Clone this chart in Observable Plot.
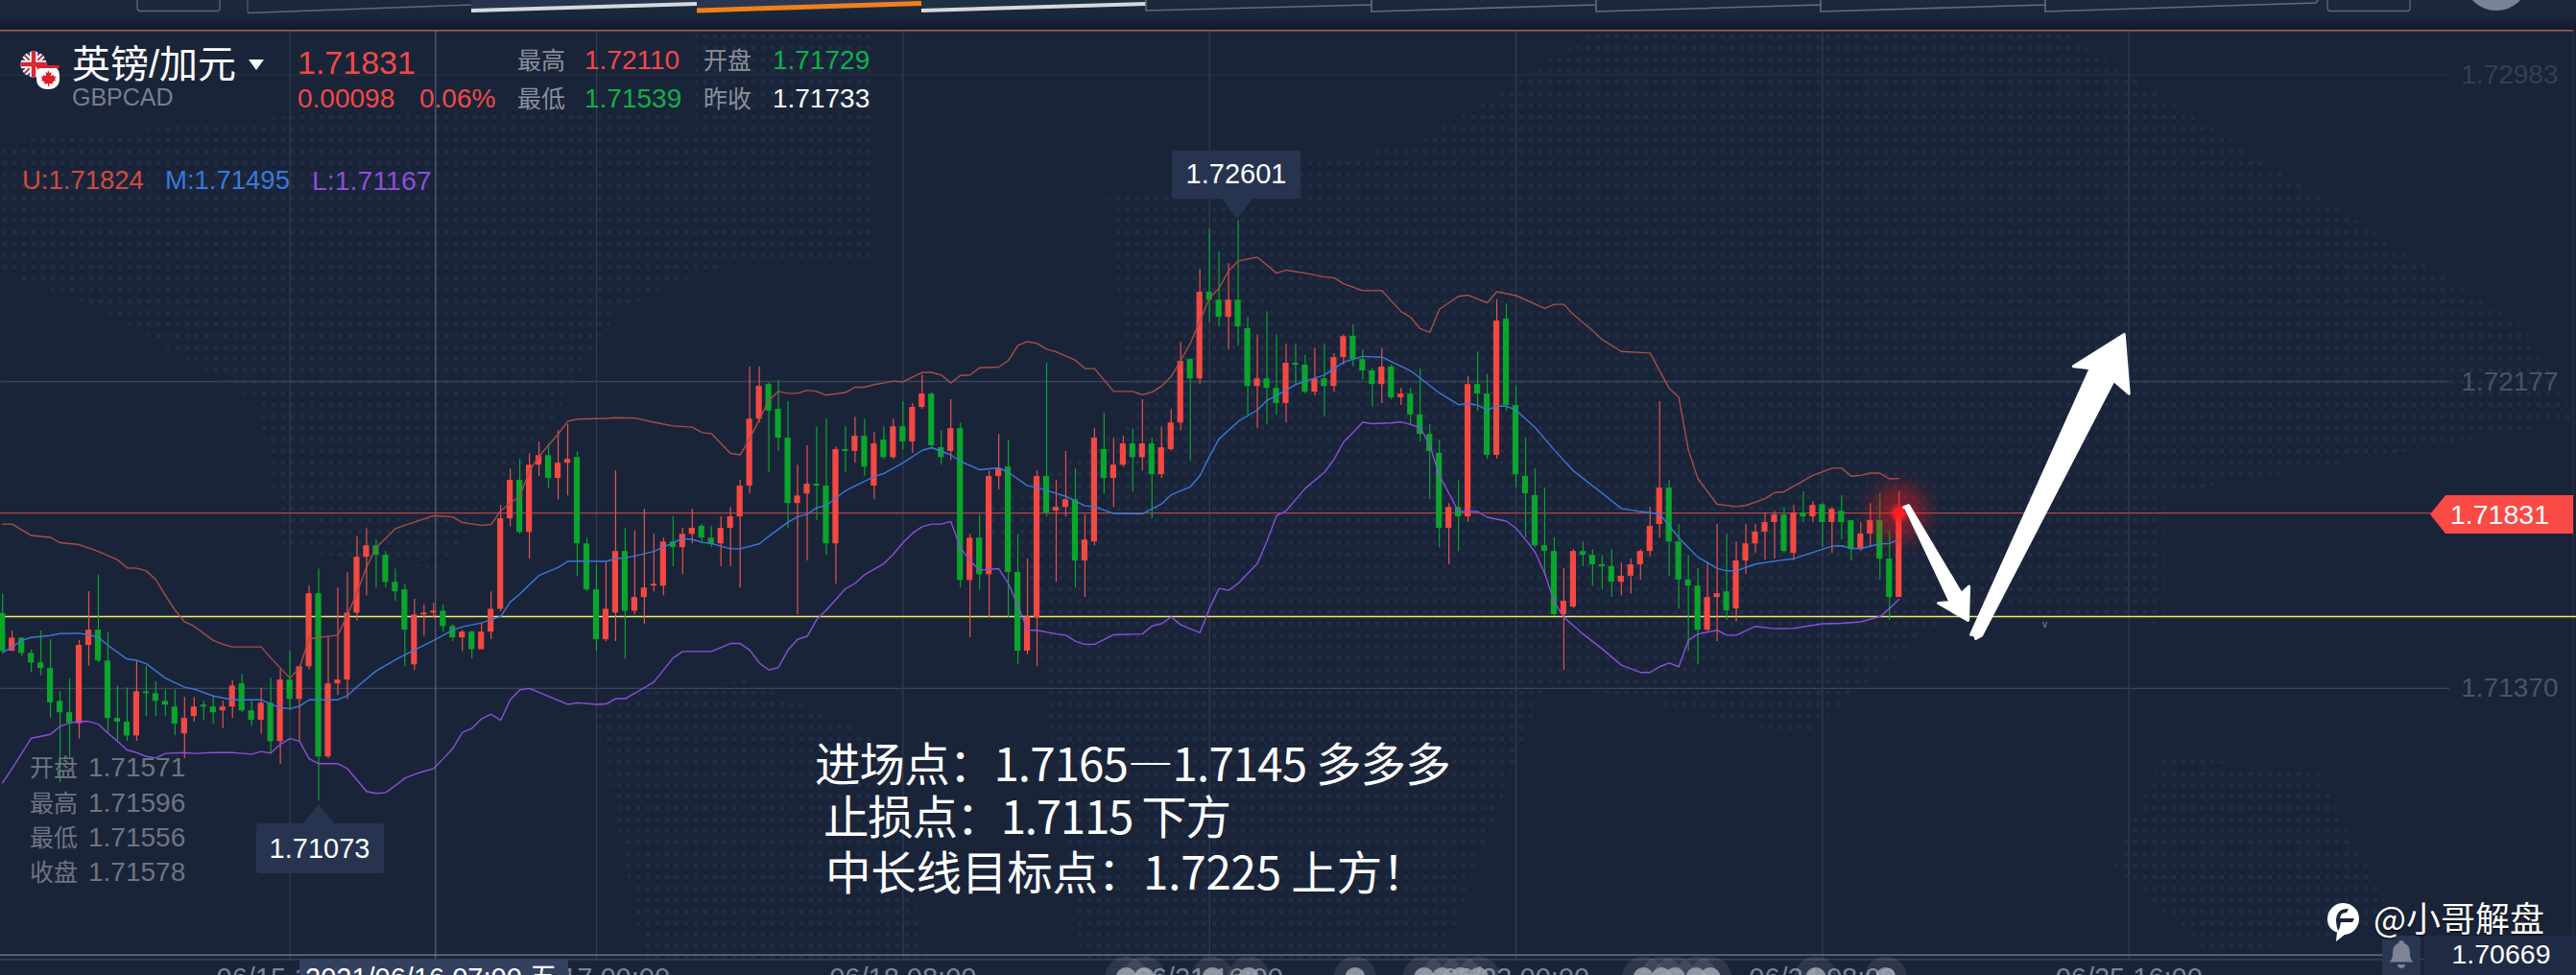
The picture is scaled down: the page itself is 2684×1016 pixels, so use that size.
<!DOCTYPE html>
<html lang="zh">
<head>
<meta charset="utf-8">
<title>GBPCAD</title>
<script src="https://cdn.jsdelivr.net/npm/d3@7"></script>
<script src="https://cdn.jsdelivr.net/npm/@observablehq/plot@0.6"></script>
<style>
html,body{margin:0;padding:0;background:#1a2439;overflow:hidden;width:2684px;height:1016px}
#stage{position:relative;width:2684px;height:1016px;overflow:hidden;background:#1a2439;font-family:"Liberation Sans","Noto Sans CJK SC",sans-serif}
#stage svg.chart{position:absolute;left:0;top:0;background:transparent}
.t{position:absolute;white-space:pre;line-height:1;transform:translateY(-50%)}
.dots{position:absolute;left:0;top:32px;width:2684px;height:967px;background-image:radial-gradient(circle,#222d45 2px,transparent 2.6px);background-size:10px 12px}
.o{position:absolute}
</style>
</head>
<body>
<div id="stage"></div>
<script>
// prices in points (1e-5)
const open = [
171567,171468,171502,171462,171437,171422,171336,171306,171277,171483,
171523,171442,171291,171281,171245,171361,171356,171336,171321,171250,
171296,171326,171321,171311,171321,171382,171311,171286,171331,171230,
171392,171341,171427,171619,171190,171382,171392,171568,171715,171745,
171720,171649,171629,171432,171563,171568,171573,171533,171503,171518,
171472,171518,171578,171816,171917,171780,171957,171982,171922,171962,
171977,171750,171629,171498,171568,171730,171573,171609,171639,171639,
171755,171740,171775,171796,171765,171750,171791,171821,171902,172078,
172169,172104,172028,171856,171881,171907,171902,171750,171998,171993,
172033,171902,172023,171977,172058,172018,172109,172144,172003,171993,
172053,171654,171765,171669,171927,171952,171675,171468,171555,171927,
171836,171846,171866,171705,171755,171998,171922,171957,172013,171977,
172013,171932,171998,172068,172235,172184,172412,172391,172346,172391,
172316,172164,172184,172159,172119,172225,172220,172149,172184,172164,
172240,172296,172235,172205,172169,172215,172134,172144,172089,172038,
171988,171791,171846,171821,172169,172144,171983,172341,172114,171927,
171877,171745,171730,171564,171584,171730,171720,171695,171690,171649,
171665,171695,171730,171801,171897,171755,171655,171639,171523,171609,
171624,171579,171705,171750,171781,171806,171826,171725,171831,171821,
171853,171806,171836,171811,171735,171776,171811,171710,171609];
const close = [
171467,171502,171462,171437,171422,171332,171306,171279,171483,171523,
171442,171291,171281,171245,171361,171356,171336,171326,171276,171291,
171321,171321,171306,171321,171376,171311,171286,171331,171230,171392,
171341,171427,171619,171190,171382,171392,171568,171715,171745,171720,
171649,171624,171523,171563,171568,171573,171533,171503,171518,171472,
171518,171578,171816,171917,171780,171957,171982,171922,171962,171972,
171750,171629,171498,171578,171730,171573,171609,171634,171644,171755,
171740,171775,171791,171765,171750,171791,171821,171902,172078,172164,
172099,172028,171856,171876,171907,171902,171750,171998,171993,172033,
171952,172013,171977,172058,172018,172109,172144,172008,171977,172053,
171654,171765,171669,171927,171947,171675,171468,171558,171927,171831,
171846,171866,171705,171760,172028,171922,171957,172013,171977,172013,
171932,172003,172068,172230,172184,172412,172391,172346,172391,172321,
172164,172184,172159,172119,172225,172220,172149,172184,172164,172240,
172295,172235,172205,172169,172215,172134,172144,172089,172038,171993,
171791,171846,171821,172169,172144,171983,172336,172114,171932,171882,
171745,171730,171564,171599,171730,171720,171695,171690,171649,171665,
171695,171730,171796,171897,171755,171655,171639,171523,171609,171619,
171574,171705,171750,171781,171806,171826,171730,171831,171821,171851,
171806,171841,171806,171735,171776,171811,171710,171609,171831];
const high = [
171618,171521,171504,171471,171521,171498,171361,171395,171496,171624,
171668,171517,171376,171371,171441,171427,171387,171366,171366,171346,
171346,171336,171349,171336,171391,171407,171336,171371,171397,171420,
171467,171429,171639,171684,171503,171634,171674,171769,171790,171760,
171730,171684,171643,171604,171589,171594,171589,171538,171523,171521,
171542,171624,171851,171947,171972,171987,172018,172013,172048,172064,
171992,171765,171695,171700,171942,171790,171785,171841,171775,171765,
171821,171791,171841,171801,171796,171821,171846,171917,172215,172215,
172174,172179,172124,171957,172008,172058,172078,172005,172058,172083,
172078,172043,172058,172078,172124,172119,172194,172148,172048,172129,
172068,171775,171826,171942,172038,172023,171775,171710,171942,172225,
171917,171993,171947,171826,172053,172094,172028,172033,172053,172129,
172028,172058,172102,172280,172237,172472,172578,172518,172487,172601,
172346,172300,172361,172300,172275,172275,172245,172265,172275,172250,
172300,172326,172260,172211,172265,172220,172159,172159,172210,172063,
172023,171856,171917,172190,172255,172195,172392,172381,172164,172028,
171947,171897,171766,171685,171735,171755,171735,171720,171735,171700,
171710,171735,171846,172124,171917,171801,171720,171685,171702,171801,
171776,171755,171801,171801,171831,171836,171846,171851,171887,171861,
171856,171846,171877,171811,171806,171856,171882,171786,171887];
const low = [
171462,171467,171454,171412,171403,171292,171122,171185,171237,171429,
171437,171252,171231,171231,171231,171296,171296,171296,171245,171185,
171281,171286,171276,171265,171291,171306,171270,171250,171201,171170,
171311,171230,171419,171073,171185,171351,171341,171548,171614,171634,
171634,171599,171427,171417,171508,171553,171518,171493,171467,171447,
171472,171498,171572,171795,171775,171710,171927,171896,171866,171876,
171664,171624,171467,171493,171493,171447,171563,171538,171624,171614,
171690,171669,171750,171750,171740,171690,171690,171634,171881,172068,
171937,171993,171791,171563,171705,171811,171720,171644,171937,171962,
171927,171866,171972,171972,171998,171988,172104,171998,171957,171969,
171634,171503,171629,171555,171892,171555,171432,171458,171427,171821,
171649,171821,171634,171609,171745,171881,171846,171952,171887,171942,
171816,171922,171993,172048,171967,172169,172331,172321,172260,172270,
172088,172053,172063,172088,172068,172169,172144,172139,172083,172149,
172220,172216,172180,172109,172119,172129,172114,172063,172018,171867,
171740,171695,171730,171806,172099,171973,171973,172099,171897,171766,
171740,171665,171559,171417,171580,171690,171639,171629,171609,171614,
171619,171655,171715,171766,171665,171579,171468,171432,171520,171493,
171549,171545,171670,171725,171707,171710,171725,171705,171806,171806,
171740,171725,171761,171705,171730,171740,171655,171549,171609];

// Bollinger bands, [candle index, points]
const upperBand = [[0,171802],[1,171802],[3,171772],[5,171767],[6,171753],[8,171748],[10,171730],[12,171708],[13,171687],[14,171686],[15,171679],[16,171656],[17,171614],[18,171576],[19,171545],[20,171533],[22,171496],[23,171486],[24,171479],[27,171479],[28,171450],[30,171397],[31,171424],[32,171500],[33,171504],[35,171510],[36,171563],[37,171622],[38,171689],[39,171740],[41,171790],[42,171799],[45,171824],[47,171821],[48,171806],[50,171799],[51,171801],[52,171837],[54,171876],[55,171942],[56,171980],[58,172039],[59,172072],[60,172078],[63,172080],[64,172082],[66,172081],[68,172070],[70,172060],
[72,172057],[73,172043],[74,172040],[76,171988],[77,171984],[78,172026],[79,172077],[80,172127],[81,172151],[82,172146],[83,172146],[84,172154],[85,172151],[86,172141],[88,172148],[89,172162],[90,172162],[91,172169],[92,172173],[93,172178],[94,172176],[95,172189],[96,172201],[97,172201],[98,172194],[99,172173],[100,172193],[101,172194],[102,172213],[104,172215],[105,172232],[106,172272],[107,172282],[108,172277],[109,172262],[110,172255],[112,172233],[113,172211],[114,172211],[116,172151],[118,172151],[119,172142],[120,172149],[121,172165],[122,172190],[123,172232],[124,172277],[125,172337],[126,172396],[127,172422],[128,172468],[129,172494],[131,172504],[133,172462],[134,172470],[136,172462],[138,172452],[139,172450],[140,172434],
[142,172416],[144,172416],[146,172361],[147,172346],[148,172316],[149,172306],[150,172367],[152,172401],[153,172404],[155,172384],[156,172413],[158,172403],[161,172369],[162,172380],[163,172380],[164,172353],[166,172311],[167,172287],[169,172256],[172,172252],[173,172205],[174,172159],[175,172136],[176,171997],[177,171921],[179,171854],[181,171848],[182,171851],[184,171869],[185,171885],[186,171887],[187,171902],[189,171930],[191,171949],[192,171949],[193,171928],[194,171930],[195,171936],[196,171936],[197,171921],[198,171922]];
const middleBand = [[0,171464],[1,171479],[2,171496],[3,171504],[5,171509],[6,171514],[8,171515],[9,171511],[10,171504],[11,171483],[13,171447],[14,171444],[15,171435],[16,171416],[17,171397],[19,171373],[20,171368],[22,171350],[24,171340],[27,171340],[28,171329],[29,171319],[30,171317],[31,171323],[32,171340],[35,171340],[36,171351],[37,171374],[39,171416],[41,171445],[42,171458],[45,171496],[47,171523],[48,171532],[50,171542],[52,171559],[53,171597],[54,171618],[55,171643],[56,171667],[58,171688],[59,171704],[60,171705],[63,171704],[64,171711],[65,171713],[66,171718],[68,171730],[70,171753],
[71,171764],[72,171762],[73,171754],[74,171751],[76,171737],[77,171737],[79,171750],[80,171770],[82,171807],[83,171821],[84,171828],[85,171845],[86,171851],[88,171890],[91,171927],[92,171935],[94,171963],[96,171996],[97,172003],[99,171984],[100,171967],[102,171945],[104,171950],[105,171938],[107,171903],[108,171898],[110,171883],[111,171875],[113,171850],[114,171848],[116,171830],[119,171829],[121,171855],[122,171879],[124,171900],[125,171929],[126,171980],[127,172026],[129,172072],[131,172102],[132,172127],[134,172154],[135,172169],[136,172178],[138,172194],[140,172228],
[142,172243],[144,172241],[147,172205],[148,172186],[150,172147],[152,172116],[153,172119],[154,172115],[155,172102],[156,172112],[157,172112],[158,172102],[160,172056],[162,171997],[164,171942],[167,171883],[169,171843],[171,171835],[173,171829],[175,171766],[177,171715],[179,171686],[180,171679],[181,171679],[183,171697],[186,171708],[187,171711],[190,171736],[191,171744],[192,171745],[193,171738],[194,171738],[196,171750],[197,171751],[198,171763]];
const lowerBand = [[0,171122],[1,171159],[3,171239],[5,171249],[6,171270],[7,171279],[8,171283],[9,171283],[10,171276],[11,171252],[12,171231],[13,171208],[14,171201],[15,171191],[16,171187],[17,171199],[19,171201],[20,171199],[22,171201],[24,171201],[26,171197],[27,171204],[28,171200],[29,171223],[30,171238],[31,171231],[32,171185],[33,171172],[35,171172],[36,171159],[37,171129],[38,171099],[39,171094],[40,171096],[41,171114],[42,171134],[43,171144],[44,171152],[45,171159],[46,171185],[47,171212],[48,171254],[49,171265],[50,171290],[51,171302],[52,171286],[53,171340],[54,171366],[55,171370],[57,171349],[59,171328],[60,171332],[62,171328],[63,171329],[64,171343],[65,171343],[66,171357],[68,171387],[70,171450],
[71,171467],[74,171467],[76,171488],[77,171488],[78,171471],[79,171437],[80,171418],[81,171425],[82,171471],[83,171499],[84,171507],[85,171551],[86,171576],[88,171632],[89,171646],[90,171669],[92,171698],[93,171723],[94,171753],[95,171778],[96,171795],[97,171802],[98,171802],[99,171809],[100,171740],[101,171706],[102,171681],[104,171685],[105,171646],[106,171589],[107,171523],[108,171523],[110,171513],[111,171510],[112,171494],[113,171486],[114,171486],[116,171511],[119,171513],[120,171534],[121,171540],[122,171558],[123,171537],[125,171516],[126,171580],[127,171633],[128,171628],[129,171646],[131,171698],[132,171757],[133,171824],[134,171837],[136,171896],[138,171938],[139,171972],[140,172018],
[141,172043],[142,172070],[143,172066],[145,172068],[146,172071],[147,172064],[148,172056],[149,172010],[150,171930],[151,171883],[152,171835],[154,171835],[155,171820],[157,171810],[158,171791],[159,171761],[160,171728],[161,171673],[162,171597],[163,171557],[165,171513],[167,171474],[169,171431],[171,171412],[172,171412],[173,171427],[174,171437],[175,171427],[176,171496],[177,171513],[179,171523],[180,171510],[181,171510],[183,171533],[185,171527],[187,171528],[190,171540],[192,171541],[194,171545],[196,171559],[197,171580],[198,171604]];

const priceTicks = [1.72983, 1.72177, 1.71370];
const lastPrice = 1.71831;
const supportLine = 1.71559;
const timeTickIdx = [30,62,94,126,158,190,222];
const timeTickLabels = ["06/15 16:00","06/17 00:00","06/18 08:00","06/21 16:00","06/23 00:00","06/24 08:00","06/25 16:00"];
const crosshairIdx = 45.2;
const eventIdx = [117.3,119.2,126.3,130.1,141.2,148.4,150.3,152.2,154.1,171.3,173.2,174.6,176.8,178.3,189.3,196.6];
const eventPrice = 1.70610, timeLabelPrice = 1.70607;
const frameTop = 1.73100, axisLine1 = 1.70669, axisLine2 = 1.70657;
const gridEndIdx = 255.5, lastPriceEndIdx = 253.6;
// hand-drawn arrows, in candle index and price
const arrowDownIdx = [198.5,199.0,204.5,205.3,205.2,202.1,203.2];
const arrowDownPrice = [1.71846,1.71851,1.71619,1.71638,1.71549,1.71594,1.71596];
const arrowUpIdx = [205.5,218.0,216.2,221.5,222.0,220.4,206.6,206.0];
const arrowUpPrice = [1.71511,1.72212,1.72217,1.72301,1.72145,1.72180,1.71509,1.71501];

const candles = open.map((o,i)=>({i,o:o/1e5,c:close[i]/1e5,h:high[i]/1e5,l:low[i]/1e5}));
const up = candles.filter(d=>d.c>=d.o), down = candles.filter(d=>d.c<d.o);
const band = a => a.map(([i,v])=>({i,v:v/1e5}));
const RED="#f44842", GREEN="#0aa52c";
const arrowDown = arrowDownIdx.map((x,k)=>({x,y:arrowDownPrice[k]}));
const arrowUp = arrowUpIdx.map((x,k)=>({x,y:arrowUpPrice[k]}));
const last = candles[candles.length-1];

const stage = document.getElementById("stage");

// faint dotted world map behind the chart
[
 "polygon(0% 12%,12% 9%,26% 9%,31% 22%,24% 30%,21% 44%,17% 58%,11% 56%,10% 40%,4% 30%,0% 26%)",
 "polygon(27% 0%,34% 0%,34% 25%,27% 25%)",
 "polygon(23% 72%,29% 70%,34% 76%,36% 100%,25% 100%)",
 "polygon(43% 18%,55% 12%,62% 0%,80% 0%,98% 32%,100% 42%,84% 50%,84% 64%,76% 62%,70% 76%,60% 70%,56% 100%,42% 100%,40% 60%,38% 52%,44% 42%)",
 "polygon(84% 78%,90% 80%,93% 96%,86% 100%,82% 90%)"
].forEach(p=>{const d=document.createElement("div");d.className="dots";d.style.clipPath=p;stage.appendChild(d);});

const chart = Plot.plot({
  width:2684,height:1016,margin:0,
  style:{background:"transparent",fontFamily:'"Liberation Sans","Noto Sans CJK SC",sans-serif'},
  x:{domain:[-0.2204,268.72],range:[0,2684],axis:null},
  y:{domain:[1.70615,1.73179],range:[1016,0],axis:null},
  marks:[
    Plot.ruleY(priceTicks.slice(1),{x1:-0.22,x2:gridEndIdx,stroke:"#3a4459",strokeWidth:1.4}),
    Plot.ruleY(priceTicks.slice(0,1),{x1:-0.22,x2:gridEndIdx,stroke:"#242f44",strokeWidth:1.2}),
    Plot.ruleX(timeTickIdx,{y1:frameTop,y2:axisLine2,stroke:"#333d52",strokeWidth:1.2}),
    Plot.ruleX([crosshairIdx],{y1:frameTop,y2:axisLine2,stroke:"#5a6376",strokeWidth:1.2}),
    Plot.ruleY([frameTop],{stroke:"#a7604f",strokeWidth:1.4,x1:-0.22,x2:268.4}),
    Plot.ruleX([268.4],{y1:frameTop,y2:axisLine2,stroke:"#3b2d3a",strokeWidth:1}),
    Plot.ruleY([axisLine1],{stroke:"#76809a",strokeWidth:1.4,x1:-0.22,x2:251}),
    Plot.ruleY([axisLine2],{stroke:"#3f4a60",strokeWidth:1.2}),
    Plot.text(priceTicks.slice(1),{y:d=>d,frameAnchor:"right",dx:-19,textAnchor:"end",text:d=>d.toFixed(5),fontSize:28,fill:"#4a5366"}),
    Plot.text(priceTicks.slice(0,1),{y:d=>d,frameAnchor:"right",dx:-19,textAnchor:"end",text:d=>d.toFixed(5),fontSize:28,fill:"#353f54"}),
    Plot.ruleY([lastPrice],{x1:-0.22,x2:lastPriceEndIdx,stroke:"#a8484c",strokeWidth:1.3}),
    Plot.ruleY([supportLine],{stroke:"#f3ea6c",strokeWidth:1.6}),
    // candles
    Plot.ruleX(down,{x:"i",y1:"l",y2:"h",stroke:GREEN,strokeWidth:1.2}),
    Plot.ruleX(up,{x:"i",y1:"l",y2:"h",stroke:"#e9524c",strokeWidth:1.2}),
    Plot.rect(down,{x1:d=>d.i-.31,x2:d=>d.i+.31,y1:"o",y2:"c",fill:GREEN}),
    Plot.rect(up,{x1:d=>d.i-.31,x2:d=>d.i+.31,y1:"o",y2:"c",fill:RED}),
    // bands
    Plot.line(band(upperBand),{x:"i",y:"v",stroke:"#a64f47",strokeWidth:1.4}),
    Plot.line(band(middleBand),{x:"i",y:"v",stroke:"#3b79d8",strokeWidth:1.4}),
    Plot.line(band(lowerBand),{x:"i",y:"v",stroke:"#8b4fd9",strokeWidth:1.4}),
    // last-price glow
    Plot.dot([last],{x:"i",y:"c",r:30,fill:"#ff1a1a",fillOpacity:.38,imageFilter:"blur(9px)"}),
    Plot.dot([last],{x:"i",y:"c",r:8,fill:"#ff1e26",imageFilter:"blur(2px)"}),
    // arrows
    Plot.line(arrowDown,{x:"x",y:"y",fill:"#fff",stroke:"#fff",strokeWidth:3,strokeLinejoin:"round"}),
    Plot.line(arrowUp,{x:"x",y:"y",fill:"#fff",stroke:"#fff",strokeWidth:3,strokeLinejoin:"round"}),
    // time axis
    Plot.text(timeTickIdx,{x:d=>d,y:timeLabelPrice,text:(d,k)=>timeTickLabels[k],fontSize:29,fill:"#7c8494"}),
    // events
    Plot.dot(eventIdx,{x:d=>d,y:eventPrice,r:22,fill:"#fff",fillOpacity:.09}),
    Plot.dot(eventIdx,{x:d=>d,y:eventPrice,r:10.5,fill:"#a0a4b0",fillOpacity:.85})
  ]
});
chart.classList.add("chart");
stage.appendChild(chart);

const T=(s,x,y,size,color,o={})=>{const d=document.createElement("div");d.className="t";d.textContent=s;d.style.left=x+"px";d.style.top=y+"px";d.style.fontSize=size+"px";d.style.color=color;Object.assign(d.style,o);stage.appendChild(d);return d;};
const BOX=(x,y,w,h,bg,o={})=>{const d=document.createElement("div");d.className="o";Object.assign(d.style,{left:x+"px",top:y+"px",width:w+"px",height:h+"px",background:bg},o);stage.appendChild(d);return d;};

// top strip
const strip=document.createElementNS("http://www.w3.org/2000/svg","svg");
strip.setAttribute("width",2684);strip.setAttribute("height",34);
strip.style.cssText="position:absolute;left:0;top:0";
strip.innerHTML=`<defs><linearGradient id="g" x1="0" y1="0" x2="0" y2="1"><stop offset="0" stop-color="#1c2a3d"/><stop offset=".6" stop-color="#1a2538"/><stop offset=".9" stop-color="#131c30"/></linearGradient></defs>
<rect width="2684" height="31" fill="url(#g)"/>
<rect x="143" y="-4" width="86" height="15.5" rx="3" fill="none" stroke="#5d6678" stroke-width="1.3"/>
<path d="M491 13 L726 4 L726 -2 L491 -2Z" fill="#28344e"/>
<path d="M726 13 L960 3 L960 -2 L726 -2Z" fill="#2b364e"/>
<path d="M960 13 L1194 4 L1194 -2 L960 -2Z" fill="#1f3040"/>
<path d="M258 13.5 L491 5" stroke="#5f6878" stroke-width="1.6" fill="none"/><path d="M258 0V13" stroke="#5f6878"/>
<path d="M491 11 L726 4" stroke="#d6d8dc" stroke-width="4" fill="none"/>
<path d="M726 11 L960 3.5" stroke="#f08019" stroke-width="5" fill="none"/>
<path d="M960 11 L1194 4" stroke="#d6d8dc" stroke-width="4" fill="none"/>
<path d="M1194 0V11 L1429 5 M1429 0V12 L1663 5 M1663 0V12 L1897 5 M1897 0V12 L2131 5 M2131 0V12 L2413 3 L2415 0" stroke="#626b7c" stroke-width="1.6" fill="none"/>
<rect x="2425" y="-4" width="86" height="15.5" rx="3" fill="none" stroke="#5d6678" stroke-width="1.3"/>
<ellipse cx="2601" cy="-16" rx="31" ry="27" fill="#7b8296"/>`;
stage.appendChild(strip);

// symbol block
const flag=document.createElementNS("http://www.w3.org/2000/svg","svg");
flag.setAttribute("width",50);flag.setAttribute("height",50);flag.setAttribute("viewBox","0 0 50 50");
flag.style.cssText="position:absolute;left:18px;top:50px";
flag.innerHTML=`<clipPath id="c"><circle cx="17" cy="17" r="13.5"/></clipPath>
<g clip-path="url(#c)"><rect width="34" height="34" fill="#2b4a8f"/><path d="M0 0L34 34M34 0L0 34" stroke="#fff" stroke-width="6"/><path d="M0 0L34 34M34 0L0 34" stroke="#d62a35" stroke-width="2"/><path d="M17 0V34M0 17H34" stroke="#fff" stroke-width="8"/><path d="M17 0V34M0 17H34" stroke="#d62a35" stroke-width="4.5"/></g>
<rect x="20" y="18" width="24" height="25" rx="10" fill="#fff"/><rect x="20" y="18" width="24" height="3" rx="1" fill="#e01c24"/>
<path d="M32 23l1.6 3 2-.8-.6 4 2.6-1.2.6 1.8 2-.2-1 3 1 .6-3.6 2.6.6 1.6-4-.4v3h-1.2v-3l-4 .4.6-1.6-3.6-2.6 1-.6-1-3 2 .2.6-1.8 2.6 1.2-.6-4 2 .8z" fill="#e01c24"/>`;
stage.appendChild(flag);

const RD="#ef4a47",GN="#0fb04b",GY="#8a8f9a";
T("英镑/加元",75,67,40,"#fff");
T("GBPCAD",75,101,25,"#787e8a");
const tri=document.createElementNS("http://www.w3.org/2000/svg","svg");
tri.setAttribute("width",20);tri.setAttribute("height",14);tri.style.cssText="position:absolute;left:258px;top:61px";
tri.innerHTML='<path d="M1 1H17L9 12Z" fill="#fff"/>';stage.appendChild(tri);
T("1.71831",310,65,34,RD);
T("0.00098",310,103,28,RD);
T("0.06%",437,103,28,RD);
T("最高",539,63,25,GY); T("1.72110",609,63,28,RD);
T("最低",539,103,25,GY); T("1.71539",609,103,28,GN);
T("开盘",733,63,25,GY); T("1.71729",805,63,28,GN);
T("昨收",733,103,25,GY); T("1.71733",805,103,28,"#fff");
T("U:1.71824",23,188,27.5,"#cf4b3f");
T("M:1.71495",172,188,27.5,"#3b78dc");
T("L:1.71167",325,188,28.5,"#8b4fdc");

// left OHLC read-out
[["开盘","1.71571",800],["最高","1.71596",837],["最低","1.71556",873],["收盘","1.71578",909]].forEach(([a,b,y])=>{
  T(a,31,y,25,"#6e7480"); T(b,92,y,28,"#6e7480");
});

// extreme labels
const pointer=(x,tipY,baseY,hw)=>{const s=document.createElementNS("http://www.w3.org/2000/svg","svg");s.setAttribute("width",hw*2);s.setAttribute("height",Math.abs(tipY-baseY)+1);s.style.cssText=`position:absolute;left:${x-hw}px;top:${Math.min(tipY,baseY)}px`;
 s.innerHTML=tipY>baseY?`<path d="M0 0H${hw*2}L${hw} ${tipY-baseY}Z" fill="#26344f"/>`:`<path d="M0 ${baseY-tipY}H${hw*2}L${hw} 0Z" fill="#26344f"/>`;stage.appendChild(s);};
BOX(1221,157,134,50,"#26344f",{borderRadius:"3px"}); pointer(1289,228,207,16);
T("1.72601",1288,181,29,"#fff",{transform:"translate(-50%,-50%)"});
BOX(267,858,133,52,"#26344f",{borderRadius:"3px"}); pointer(332,838,858,16);
T("1.71073",333,884,29,"#fff",{transform:"translate(-50%,-50%)"});

// last price tag
const tag=document.createElementNS("http://www.w3.org/2000/svg","svg");
tag.setAttribute("width",152);tag.setAttribute("height",42);tag.style.cssText="position:absolute;left:2531px;top:515px";
tag.innerHTML='<path d="M1 21L17 1H150V41H17Z" fill="#f94a45"/>';stage.appendChild(tag);
T("1.71831",2553,536,28.5,"#fff");

// small mark
T("v",2128,651,10,"#8a8f9a");

// bottom axis highlight
BOX(312,1000,280,16,"#33415f");
T("2021/06/16 07:00 五",318,1018.5,29,"#fff");

// bell and bottom price
BOX(2482,975,40,41,"#2a3650",{borderRadius:"4px 4px 0 0"});
const bell=document.createElementNS("http://www.w3.org/2000/svg","svg");
bell.setAttribute("width",40);bell.setAttribute("height",41);bell.style.cssText="position:absolute;left:2482px;top:975px";
bell.innerHTML='<path d="M20 5c2 0 3 1.500 3 3 5 1.500 6 6 6 11 0 5 2 7 3.500 8.500H7.500C9 26 11 24 11 19c0-5 1-9.500 6-11 0-1.500 1-3 3-3zM16 30h8c0 2.500-2 4-4 4s-4-1.500-4-4z" fill="#7d8498"/>';stage.appendChild(bell);
BOX(2526,975,158,41,"#1f2b45");
T("1.70669",2606,994,28.5,"#fff",{transform:"translate(-50%,-50%)"});

// annotation
const NOTE={fontFamily:'"Noto Sans CJK SC",sans-serif',fontWeight:"400"};
T("进场点：1.7165—1.7145 多多多",849,794,47.5,"#fff",{...NOTE,letterSpacing:"-0.9px"});
T("止损点：1.7115 下方",858,849,47.5,"#fff",{...NOTE,letterSpacing:"-1.3px"});
T("中长线目标点：1.7225 上方！",860,907,47.5,"#fff",{...NOTE,letterSpacing:"-0.2px"});

// watermark
const logo=document.createElementNS("http://www.w3.org/2000/svg","svg");
logo.setAttribute("width",36);logo.setAttribute("height",42);logo.style.cssText="position:absolute;left:2424px;top:940px";
logo.innerHTML='<path d="M18 1a16.500 16.500 0 0 1 16 16.500c0 9-7 16-15 16.500l-9 7 1-9.500C4 29 1 24 1 17.500A16.500 16.500 0 0 1 18 1z" fill="#fff"/><path d="M10 18c1-8 5-11 13-11l-2 4c-5 0-6 2-7 6h15l-2 4h-12c-1 4-1 6-3 9-1-3-2-7-2-12z" fill="#1a2439"/>';stage.appendChild(logo);
T("@小哥解盘",2473,955,36,"#fff",{fontFamily:'"Noto Sans CJK SC",sans-serif',textShadow:"0 1px 2px #000"});
</script>
</body>
</html>
